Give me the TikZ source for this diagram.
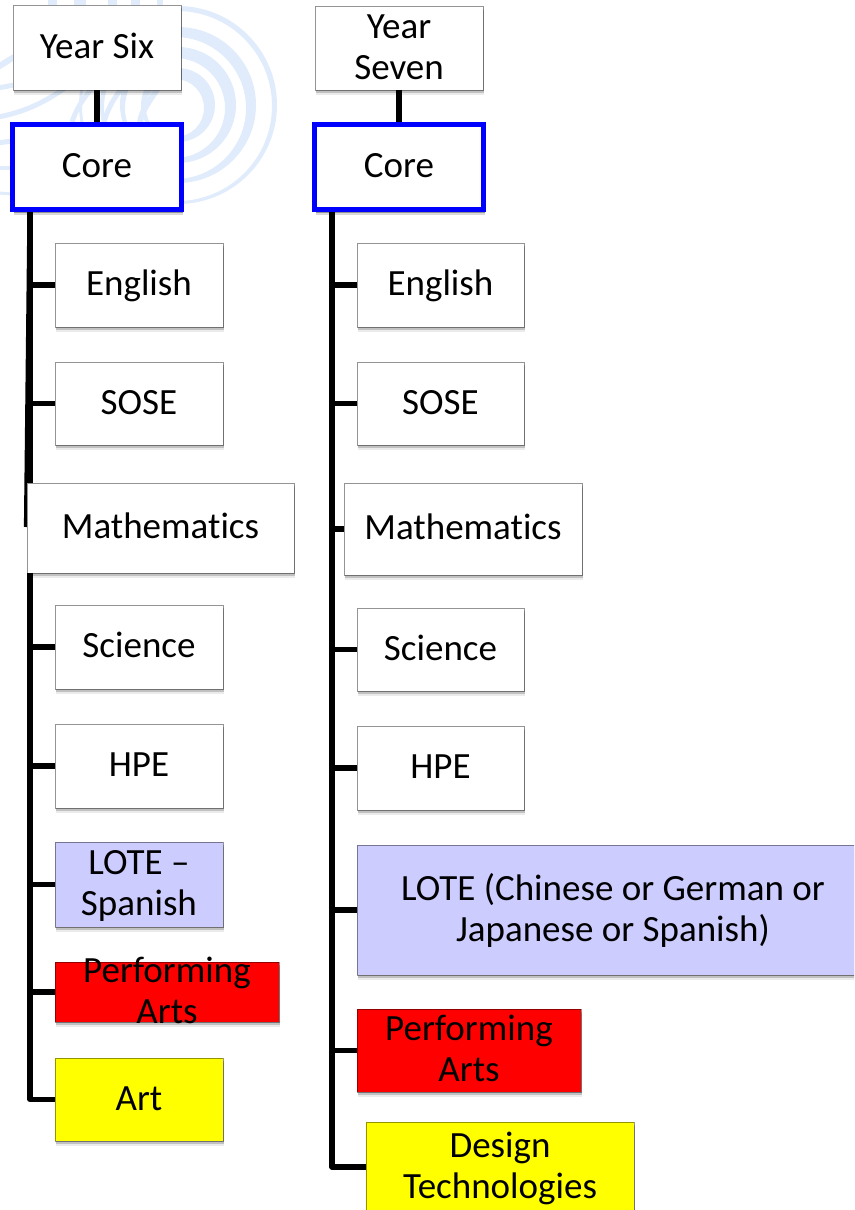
\documentclass[tikz,border=0pt]{standalone}
\usepackage{fontspec}
\setmainfont[Ligatures=NoCommon]{Carlito}
\usetikzlibrary{shadows,backgrounds}
\definecolor{wm}{HTML}{E0ECFC}
\definecolor{lote}{HTML}{CCCCFF}
\definecolor{pred}{HTML}{FF0000}
\definecolor{pyel}{HTML}{FFFF00}
\definecolor{pblue}{HTML}{0000FF}
\tikzset{
  bx/.style={draw=black,draw opacity=.42,line width=1pt,fill=white,inner sep=0pt,outer sep=0pt,
    drop shadow={shadow xshift=1pt,shadow yshift=-5pt,fill=black,opacity=.08},
    drop shadow={shadow xshift=1pt,shadow yshift=-3pt,fill=black,opacity=.18}},
  corebox/.style={bx,draw=pblue,draw opacity=1,line width=5.5pt},
  link/.style={line width=5.2pt,line join=round,black},
  wmark/.style={line width=4.5pt,wm}
}
\newcommand\bt[1]{\raisebox{-.24em}[0pt][0pt]{\begin{tabular}{@{}c@{}}#1\end{tabular}}}
\newcommand\bxn[7][]{\node[bx,#1,minimum width={(#5-#3)*1pt},minimum height={(#6-#4)*1pt}] (#2) at ({(#3+#5)/2},{(#4+#6)/2}) {\bt{#7}};}
\newcommand\crescent[3]{\fill[wm,even odd rule] (178,105) circle (#1) ({178-#3},{105+#3}) circle (#2);}
\begin{document}
\begin{tikzpicture}[x=1pt,y=-1pt,font=\fontsize{37}{41}\selectfont]
\useasboundingbox (0,0) rectangle (854,1210);
\begin{scope}
\clip (0,0) rectangle (854,1210);
% left column
\bxn{ysix}{13}{5}{181}{90}{Year Six}
\bxn[corebox]{coreL}{12.5}{124.5}{181.5}{209.5}{Core}
\bxn{engL}{55}{243}{223}{327}{English}
\bxn{soseL}{55}{362}{223}{445}{SOSE}
\bxn{mathL}{27}{483}{294}{573}{Mathematics}
\bxn{sciL}{55}{605}{223}{689}{Science}
\bxn{hpeL}{55}{724}{223}{808}{HPE}
\bxn[fill=lote]{loteL}{55}{842}{223}{927}{LOTE –\\Spanish}
\bxn[fill=pred]{perfL}{55}{962}{279}{1022}{Performing\\Arts}
\bxn[fill=pyel]{artL}{55}{1058}{223}{1141}{Art}
% right column
\bxn{ysev}{315}{6}{483}{90}{Year\\Seven}
\bxn[corebox]{coreR}{314.5}{124.5}{483.5}{209.5}{Core}
\bxn{engR}{357}{243}{524}{327}{English}
\bxn{soseR}{357}{362}{524}{445}{SOSE}
\bxn{mathR}{344}{483}{582}{575}{Mathematics}
\bxn{sciR}{357}{608}{524}{691}{Science}
\bxn{hpeR}{357}{726}{524}{810}{HPE}
\bxn[fill=lote]{loteR}{357}{845}{869}{975}{LOTE (Chinese or German or\\Japanese or Spanish)}
\bxn[fill=pred]{perfR}{357}{1009}{581}{1092}{Performing\\Arts}
\bxn[fill=pyel]{desR}{366}{1122}{634}{1212}{Design\\Technologies}
\coordinate (tL) at (30,210);
\coordinate (tR) at (332,210);
\coordinate (mL) at (26.5,527);
\begin{scope}[on background layer]
  % watermark
  \crescent{37}{29}{3}
  \crescent{58}{50}{3}
  \crescent{78}{71}{3}
  \crescent{99}{95}{1}
  \draw[wm,line width=6pt] (-2,67) -- (14,57);
  \draw[wm,line width=5pt] (-2,88) -- (14,85);
  \draw[wm,line width=5pt] (-2,117) .. controls (25,112) and (45,102) .. (65,88);
  \draw[wm,line width=5pt] (-2,143) -- (12,141);
  \draw[wm,line width=4pt] (-2,168) -- (12,168);
  \draw[wm,line width=3pt] (-2,193) -- (12,194);
  \draw[wm,line width=5pt] (72,122) .. controls (76,110) and (82,100) .. (92,88);
  \draw[wm,line width=5pt] (104,122) .. controls (108,108) and (114,98) .. (122,88);
  \draw[wm,line width=6pt] (140,122) .. controls (142,110) and (150,100) .. (158,88);
  \draw[wmark,line width=9pt] (52,-2) -- (52,7);
  \draw[wmark,line width=12pt] (80,-2) -- (80,7);
  \draw[wmark,line width=9pt] (112,-2) -- (112,7);
  \draw[wmark,line width=9pt] (135,-2) -- (135,7);
  \draw[wmark,line width=6pt] (160,-2) -- (160,7);
  % connectors
  \draw[link] (ysix) -- (coreL);
  \draw[link] (ysev) -- (coreR);
  \draw[link] (tL) -- (mL);
  \draw[link] (tL) |- (engL.west);
  \draw[link] (tL) |- (soseL.west);
  \draw[link] (tL) |- (sciL.west);
  \draw[link] (tL) |- (hpeL.west);
  \draw[link] (tL) |- (loteL.west);
  \draw[link] (tL) |- (perfL.west);
  \draw[link] (tL) |- (artL.west);
  \draw[link] (tR) |- (engR.west);
  \draw[link] (tR) |- (soseR.west);
  \draw[link] (tR) |- (mathR.west);
  \draw[link] (tR) |- (sciR.west);
  \draw[link] (tR) |- (hpeR.west);
  \draw[link] (tR) |- (loteR.west);
  \draw[link] (tR) |- (perfR.west);
  \draw[link] (tR) |- (desR.west);
\end{scope}
\end{scope}
\end{tikzpicture}
\end{document}
